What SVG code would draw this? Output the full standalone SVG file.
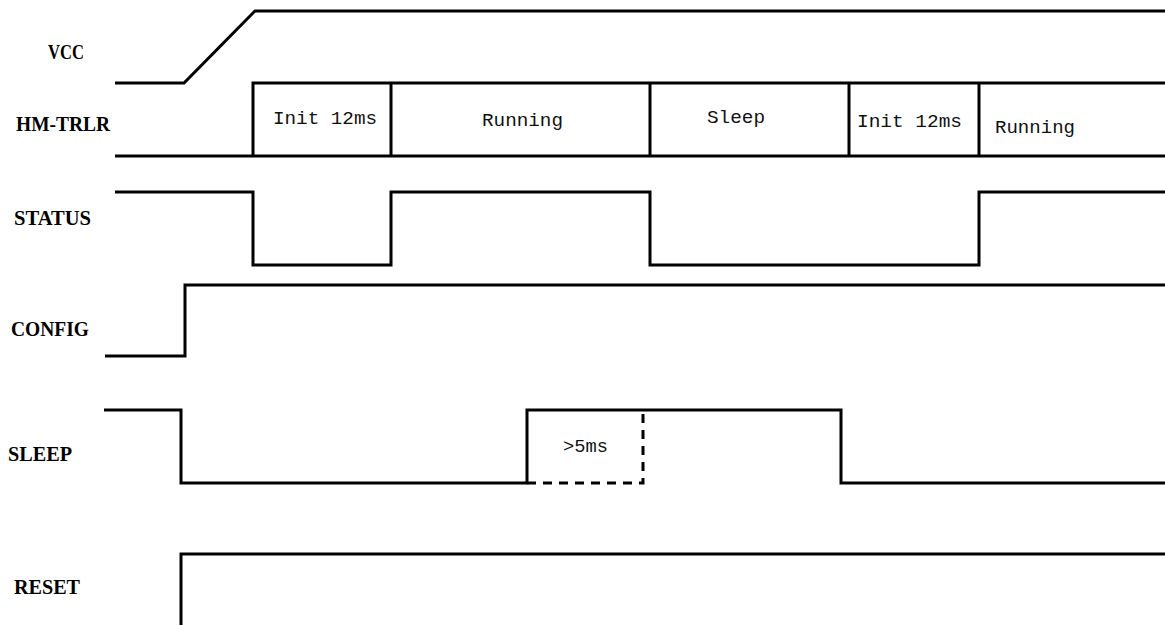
<svg xmlns="http://www.w3.org/2000/svg" width="1165" height="625" viewBox="0 0 1165 625">
<style>
.w{fill:none;stroke:#000;stroke-width:3;stroke-linejoin:miter}
.d{fill:none;stroke:#000;stroke-width:3;stroke-dasharray:9,7}
.lbl{font-family:"Liberation Serif",serif;font-weight:bold;font-size:21px;fill:#000}
.t{font-family:"Liberation Mono",monospace;font-size:19px;fill:#111}
</style>
<rect width="1165" height="625" fill="#fff"/>
<g id="labels">
<text class="lbl" x="48" y="59" textLength="36" lengthAdjust="spacingAndGlyphs">VCC</text>
<text class="lbl" x="16" y="131" textLength="94" lengthAdjust="spacingAndGlyphs">HM-TRLR</text>
<text class="lbl" x="14" y="225" textLength="77" lengthAdjust="spacingAndGlyphs">STATUS</text>
<text class="lbl" x="11" y="336" textLength="78" lengthAdjust="spacingAndGlyphs">CONFIG</text>
<text class="lbl" x="8" y="461" textLength="64" lengthAdjust="spacingAndGlyphs">SLEEP</text>
<text class="lbl" x="14" y="594" textLength="66" lengthAdjust="spacingAndGlyphs">RESET</text>
</g>
<g id="connectors">
<path id="vcc" class="w" d="M115,83 H184 L255,11 H1165"/>
<path id="hm-top" class="w" d="M253,156 V83 H1165"/>
<path id="hm-bot" class="w" d="M115,156 H1165"/>
<path class="w" d="M391,83 V156 M650,83 V156 M849,83 V156 M979,83 V156"/>
<path id="status" class="w" d="M115,192 H253 V265 H391 V192 H650 V265 H979 V192 H1165"/>
<path id="config" class="w" d="M105,356 H185 V285 H1165"/>
<path id="sleep" class="w" d="M104,410 H181 V483 H527 V410 H841 V483 H1165"/>
<path class="d" d="M527,483 H643 V410"/>
<path id="reset" class="w" d="M181,625 V554 H1165"/>
</g>
<g id="states">
<text class="t" x="273" y="124" textLength="104" lengthAdjust="spacingAndGlyphs">Init 12ms</text>
<text class="t" x="482" y="126" textLength="81" lengthAdjust="spacingAndGlyphs">Running</text>
<text class="t" x="707" y="123" textLength="58" lengthAdjust="spacingAndGlyphs">Sleep</text>
<text class="t" x="857" y="127" textLength="105" lengthAdjust="spacingAndGlyphs">Init 12ms</text>
<text class="t" x="995" y="133" textLength="80" lengthAdjust="spacingAndGlyphs">Running</text>
<text class="t" x="563" y="452" textLength="45" lengthAdjust="spacingAndGlyphs">&gt;5ms</text>
</g>
</svg>
